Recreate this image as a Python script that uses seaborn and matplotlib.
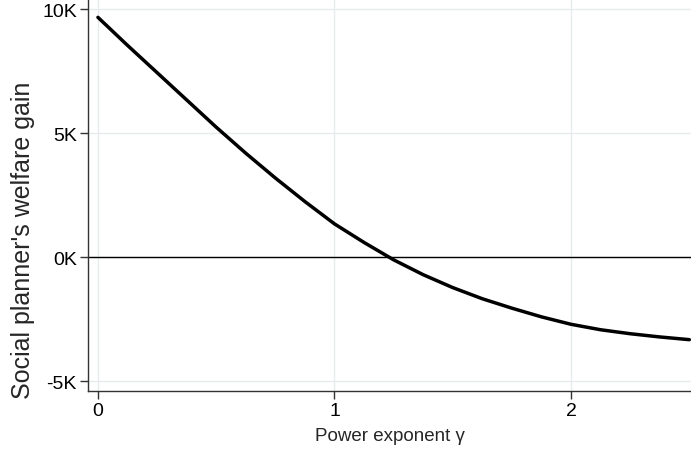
import pandas as pd
import matplotlib
matplotlib.use("Agg")
import matplotlib.pyplot as plt
import seaborn as sns

# значения
gamma = [0.0, 0.125, 0.25, 0.375, 0.5, 0.625, 0.75, 0.875, 1.0, 1.125, 1.25,
         1.375, 1.5, 1.625, 1.75, 1.875, 2.0, 2.125, 2.25, 2.375, 2.5]
welfare_gain = [9680, 8550, 7450, 6350, 5250, 4200, 3200, 2250, 1350, 600, -100,
                -700, -1220, -1670, -2050, -2400, -2700, -2920, -3080, -3210, -3320]

x_ticks = [0, 1, 2]
y_ticks = [-5000, 0, 5000, 10000]
y_tick_labels = ["-5K", "0K", "5K", "10K"]

sns.set_theme(style="white")
plt.rcParams['font.family'] = ['Liberation Sans', 'DejaVu Sans']

df = pd.DataFrame({"gamma": gamma, "gain": welfare_gain})

fig = plt.figure(figsize=(6.91, 4.52), dpi=100)
ax = fig.add_axes([88 / 691, 60 / 452, 603 / 691, 392 / 452])

sns.lineplot(data=df, x="gamma", y="gain", color="black", linewidth=2.5, ax=ax, zorder=3)
ax.axhline(0, color="black", linewidth=1.0, zorder=2)

ax.set_xlim(-0.042, 2.507)
ax.set_ylim(-5390, 10420)
ax.set_xticks(x_ticks)
ax.set_xticklabels([str(t) for t in x_ticks])
ax.set_yticks(y_ticks)
ax.set_yticklabels(y_tick_labels)

ax.grid(True, color="#e6ecee", linewidth=1.0, zorder=0)
ax.set_axisbelow(True)
for side in ["top", "right"]:
    ax.spines[side].set_visible(False)
for side in ["left", "bottom"]:
    ax.spines[side].set_color("#333333")
    ax.spines[side].set_linewidth(1.0)

ax.tick_params(axis="both", direction="out", length=6, width=1.0, color="#333333",
               labelsize=14, colors="black", left=True, bottom=True, pad=2)
ax.set_xlabel("Power exponent γ", fontsize=13.5, labelpad=6)
ax.set_ylabel("Social planner's welfare gain", fontsize=18)
# подпись оси Y в исходнике сдвинута вниз (картинка обрезана сверху)
ax.yaxis.label.set_va("center")
ax.yaxis.set_label_coords(-0.108, 0.388)

fig.savefig("out.png", dpi=100)
plt.close(fig)
